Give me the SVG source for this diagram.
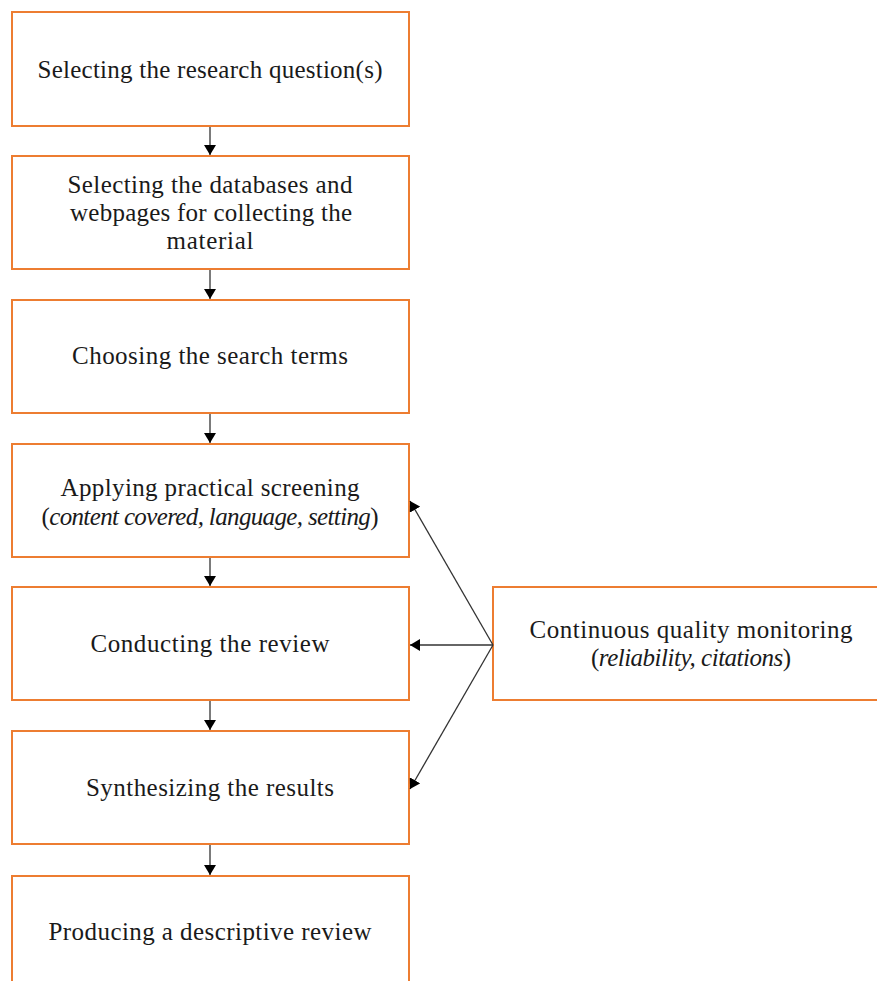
<svg xmlns="http://www.w3.org/2000/svg" width="877" height="981" viewBox="0 0 877 981">
  <style>
    .box { fill: #ffffff; stroke: #ED7D31; stroke-width: 2; }
    .lbl { font-family: "Liberation Serif", "DejaVu Serif", serif; font-size: 25px; fill: #1a1a1a; text-anchor: middle; }
    .it { font-style: italic; }
    .link { stroke: #333333; stroke-width: 1.3; fill: none; marker-end: url(#head); }
  </style>
  <defs>
    <marker id="head" viewBox="0 0 10 12" refX="10" refY="6" markerWidth="10" markerHeight="12" markerUnits="userSpaceOnUse" orient="auto">
      <path d="M0,0 L10,6 L0,12 Z" fill="#000000"/>
    </marker>
  </defs>

  <rect width="877" height="981" fill="#ffffff"/>

  <g id="step1">
    <rect class="box" x="12" y="12" width="397" height="114"/>
    <text class="lbl" x="210" y="78" textLength="345">Selecting the research question(s)</text>
  </g>
  <g id="step2">
    <rect class="box" x="12" y="156" width="397" height="113"/>
    <text class="lbl" x="210" y="193" textLength="285">Selecting the databases and</text>
    <text class="lbl" x="211" y="221" textLength="282">webpages for collecting the</text>
    <text class="lbl" x="210" y="249" textLength="87">material</text>
  </g>
  <g id="step3">
    <rect class="box" x="12" y="300" width="397" height="113"/>
    <text class="lbl" x="210" y="364" textLength="276">Choosing the search terms</text>
  </g>
  <g id="step4">
    <rect class="box" x="12" y="444" width="397" height="113"/>
    <text class="lbl" x="210" y="496" textLength="299">Applying practical screening</text>
    <text class="lbl" x="210" y="525" textLength="337">(<tspan class="it">content covered, language, setting</tspan>)</text>
  </g>
  <g id="step5">
    <rect class="box" x="12" y="587" width="397" height="113"/>
    <text class="lbl" x="210" y="652" textLength="239">Conducting the review</text>
  </g>
  <g id="step6">
    <rect class="box" x="12" y="731" width="397" height="113"/>
    <text class="lbl" x="210" y="796" textLength="248">Synthesizing the results</text>
  </g>
  <g id="step7">
    <rect class="box" x="12" y="876" width="397" height="120"/>
    <text class="lbl" x="210" y="940" textLength="323">Producing a descriptive review</text>
  </g>
  <g id="monitor">
    <rect class="box" x="493" y="587" width="400" height="113"/>
    <text class="lbl" x="691" y="638" textLength="323">Continuous quality monitoring</text>
    <text class="lbl" x="691" y="666" textLength="200">(<tspan class="it">reliability, citations</tspan>)</text>
  </g>

  <g id="connectors">
    <line class="link" x1="210" y1="127" x2="210" y2="155"/>
    <line class="link" x1="210" y1="270" x2="210" y2="299"/>
    <line class="link" x1="210" y1="414" x2="210" y2="443"/>
    <line class="link" x1="210" y1="558" x2="210" y2="586"/>
    <line class="link" x1="210" y1="701" x2="210" y2="730"/>
    <line class="link" x1="210" y1="845" x2="210" y2="875"/>
    <line class="link" x1="493" y1="645" x2="410" y2="501"/>
    <line class="link" x1="493" y1="645" x2="410" y2="645"/>
    <line class="link" x1="493" y1="645" x2="410" y2="789"/>
  </g>
</svg>
